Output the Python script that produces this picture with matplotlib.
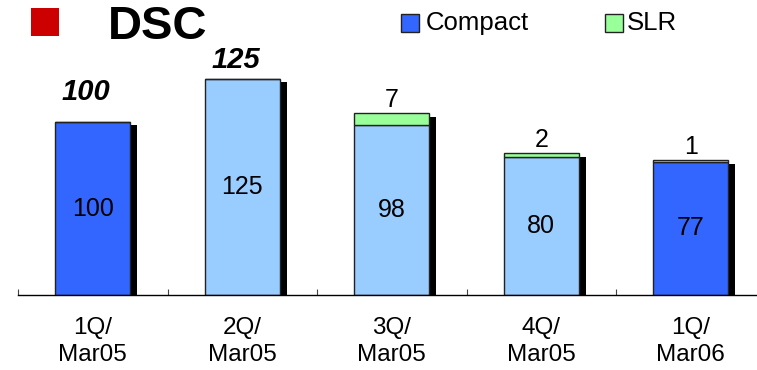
import matplotlib.pyplot as plt
from matplotlib.patches import Rectangle
import numpy as np

plt.rcParams['font.family'] = ['Liberation Sans', 'DejaVu Sans']

# data
quarters = ['1Q/\nMar05', '2Q/\nMar05', '3Q/\nMar05', '4Q/\nMar05', '1Q/\nMar06']
compact = [100, 125, 98, 80, 77]
slr = [0, 0, 7, 2, 1]
totals_shown = [100, 125, None, None, None]
compact_colors = ['#3366FF', '#99CCFF', '#99CCFF', '#99CCFF', '#3366FF']

fig = plt.figure(figsize=(7.57, 3.70), dpi=100)
ax = fig.add_axes([18 / 757, 1 - 295 / 370, 1 - 18 / 757, 295 / 370])

x = np.arange(len(quarters))
w = 0.5
top = np.array(compact) + np.array(slr)

# drop shadow behind each column
ax.bar(x + 0.047, top - 2, width=w, bottom=0, color='black', zorder=1)
ax.bar(x, compact, width=w, color=compact_colors, edgecolor='#222222',
       linewidth=1, zorder=2)
ax.bar(x, slr, width=w, bottom=compact, color='#99FF99', edgecolor='#222222',
       linewidth=1, zorder=2)

for i in range(len(x)):
    ax.text(x[i], compact[i] / 2, str(compact[i]), ha='center', va='center',
            fontsize=18, zorder=3)
    if slr[i]:
        ax.text(x[i], top[i] + 0.5, str(slr[i]), ha='center', va='bottom',
                fontsize=18, zorder=3)

# bold italic totals over the first two columns
pads = [9, 3]
for i, t in enumerate(totals_shown):
    if t is not None:
        ax.text(x[i] - 0.045, top[i] + pads[i], str(t), ha='center',
                va='bottom', fontsize=21, fontweight='bold',
                fontstyle='italic', zorder=3)

ax.set_xlim(-0.5, -0.5 + 739 / 149.5)
ax.set_ylim(0, 295 / 1.73)
for s in ['left', 'right', 'top']:
    ax.spines[s].set_visible(False)
ax.spines['bottom'].set_linewidth(1)
ax.set_yticks([])
ax.set_xticks(x)
ax.set_xticklabels(quarters, fontsize=17.5, linespacing=1.3)
ax.tick_params(axis='x', which='major', length=0, pad=16)
ax.set_xticks(np.arange(len(quarters)) - 0.5, minor=True)
ax.tick_params(axis='x', which='minor', direction='in', length=4.5,
               width=0.8, color='#444444')

# heading and legend
fig.patches.append(Rectangle((31, 370 - 36), 28, 28, transform=None,
                             facecolor='#CC0000', edgecolor='none'))
fig.text(108 / 757, 1 - 27 / 370, 'DSC', fontsize=34, fontweight='bold',
         va='center', ha='left')
fig.patches.append(Rectangle((401, 370 - 32), 18, 18, transform=None,
                             facecolor='#3366FF', edgecolor='#222222', lw=1))
fig.text(426 / 757, 1 - 23 / 370, 'Compact', fontsize=18.5, va='center')
fig.patches.append(Rectangle((605, 370 - 32), 18, 18, transform=None,
                             facecolor='#99FF99', edgecolor='#222222', lw=1))
fig.text(627 / 757, 1 - 23 / 370, 'SLR', fontsize=18.5, va='center')

fig.savefig('out.png', dpi=100)
